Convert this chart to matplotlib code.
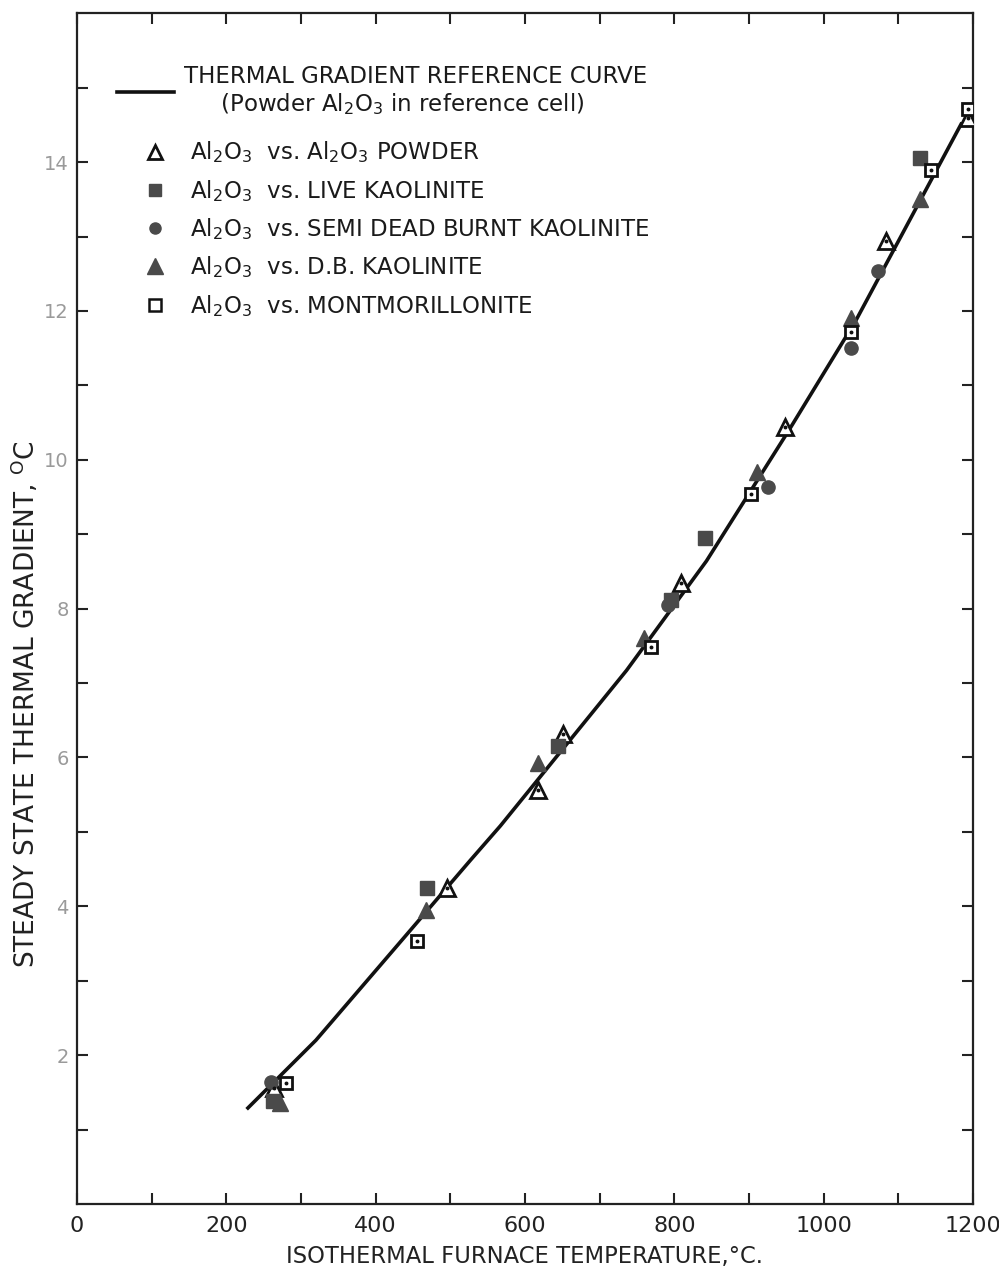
import matplotlib
matplotlib.use("Agg")
import matplotlib.pyplot as plt
from matplotlib.lines import Line2D

# reference curve
curve_x = [229, 320, 433, 527, 567, 736, 843, 953, 1043, 1184]
curve_y = [1.29, 2.20, 3.52, 4.62, 5.08, 7.17, 8.64, 10.39, 11.87, 14.51]

# Al2O3 vs. Al2O3 powder (open triangle)
powder_x = [264, 496, 617, 651, 809, 948, 1084, 1193]
powder_y = [1.56, 4.24, 5.56, 6.32, 8.35, 10.44, 12.94, 14.59]

# Al2O3 vs. live kaolinite (filled square)
live_x = [262, 469, 644, 796, 841, 1129]
live_y = [1.38, 4.24, 6.16, 8.11, 8.95, 14.05]

# Al2O3 vs. semi dead burnt kaolinite (filled circle)
semi_x = [260, 792, 925, 1036, 1073]
semi_y = [1.64, 8.05, 9.64, 11.50, 12.54]

# Al2O3 vs. D.B. kaolinite (filled triangle)
db_x = [272, 467, 617, 760, 911, 1037, 1129]
db_y = [1.36, 3.95, 5.93, 7.61, 9.83, 11.91, 13.50]

# Al2O3 vs. montmorillonite (open square)
mont_x = [280, 456, 769, 903, 1037, 1144, 1193]
mont_y = [1.62, 3.54, 7.48, 9.54, 11.72, 13.89, 14.72]

x_ticks = [0, 200, 400, 600, 800, 1000, 1200]
y_ticks = [2, 4, 6, 8, 10, 12, 14]

fig = plt.figure(figsize=(9.99, 12.68), dpi=100)
ax = fig.add_axes([0.077, 0.0505, 0.897, 0.939])

gray = "#4a4a4a"
ax.plot(curve_x, curve_y, color="#111111", lw=2.6, zorder=2)

ax.plot(powder_x, powder_y, ls="none", marker="^", ms=11, mfc="white",
        mec="#111111", mew=2, zorder=3)
ax.plot(live_x, live_y, ls="none", marker="s", ms=9.5, mfc=gray,
        mec=gray, zorder=3)
ax.plot(semi_x, semi_y, ls="none", marker="o", ms=9.5, mfc=gray,
        mec=gray, zorder=3)
ax.plot(db_x, db_y, ls="none", marker="^", ms=12, mfc=gray,
        mec=gray, zorder=3)
ax.plot(mont_x, mont_y, ls="none", marker="s", ms=9, mfc="white",
        mec="#111111", mew=2, zorder=3)
# little centre dots of the open symbols
ax.plot(powder_x + mont_x, powder_y + mont_y, ls="none", marker="o", ms=1.8,
        color="#111111", zorder=4)

ax.set_xlim(0, 1200)
ax.set_ylim(0, 16)
ax.set_xticks(x_ticks)
ax.set_xticks(range(100, 1200, 200), minor=True)
ax.set_yticks(y_ticks)
ax.set_yticks(range(1, 16, 2), minor=True)
ax.set_xticklabels([str(v) for v in x_ticks], fontsize=16, color="#222222")
ax.set_yticklabels([str(v) for v in y_ticks], fontsize=14, color="#9a9a9a")

ax.tick_params(which="both", direction="in", top=True, right=True,
               length=8, width=1.5, color="#222222")
ax.tick_params(axis="x", pad=9)
ax.tick_params(axis="y", pad=6)
for s in ax.spines.values():
    s.set_linewidth(1.6)
    s.set_color("#222222")

ax.set_xlabel("ISOTHERMAL FURNACE TEMPERATURE,°C.", fontsize=16.3,
              color="#222222", labelpad=6)
ax.set_ylabel(r"STEADY STATE THERMAL GRADIENT, $^{\mathrm{O}}\mathrm{C}$",
              fontsize=19, color="#222222")
ax.yaxis.set_label_coords(-0.040, 0.42)

# legend part 1: the reference curve
curve_handle = Line2D([], [], color="#111111", lw=2.6)
leg1 = ax.legend([curve_handle],
                 ["THERMAL GRADIENT REFERENCE CURVE\n"
                  "     (Powder Al$_2$O$_3$ in reference cell)"],
                 loc="upper left", bbox_to_anchor=(0.0446, 0.957),
                 frameon=False, fontsize=16.5, handlelength=2.5,
                 handletextpad=0.45, borderpad=0, borderaxespad=0)
for t in leg1.get_texts():
    t.set_color("#1a1a1a")
ax.add_artist(leg1)

# legend part 2: the symbols
handles = [
    Line2D([], [], ls="none", marker="^", ms=10, mfc="white", mec="#111111", mew=2),
    Line2D([], [], ls="none", marker="s", ms=8, mfc=gray, mec=gray),
    Line2D([], [], ls="none", marker="o", ms=8, mfc=gray, mec=gray),
    Line2D([], [], ls="none", marker="^", ms=11, mfc=gray, mec=gray),
    Line2D([], [], ls="none", marker="s", ms=8, mfc="white", mec="#111111", mew=1.8),
]
labels = [
    "Al$_2$O$_3$  vs. Al$_2$O$_3$ POWDER",
    "Al$_2$O$_3$  vs. LIVE KAOLINITE",
    "Al$_2$O$_3$  vs. SEMI DEAD BURNT KAOLINITE",
    "Al$_2$O$_3$  vs. D.B. KAOLINITE",
    "Al$_2$O$_3$  vs. MONTMORILLONITE",
]
leg2 = ax.legend(handles, labels, loc="upper left", bbox_to_anchor=(0.0703, 0.894),
                 frameon=False, fontsize=16.5, handlelength=1.3, handletextpad=0.87,
                 labelspacing=0.54, borderpad=0, borderaxespad=0)
for t in leg2.get_texts():
    t.set_color("#1a1a1a")

fig.savefig("out.png", dpi=100)
